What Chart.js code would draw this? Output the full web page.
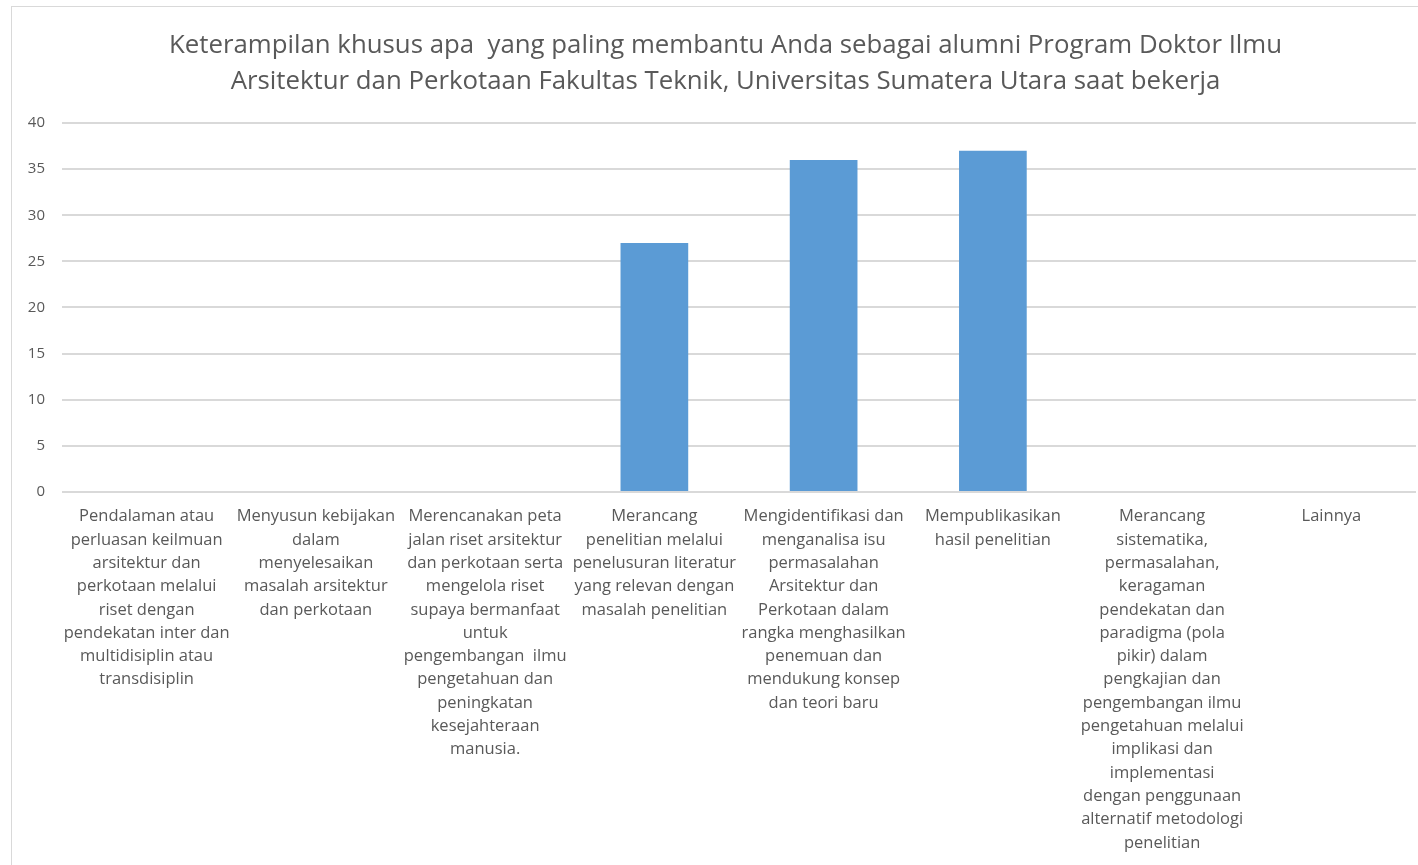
<!DOCTYPE html>
<html>
<head>
<meta charset="utf-8">
<script src="https://cdn.jsdelivr.net/npm/chart.js@4"></script>
<style>
  html, body { margin: 0; padding: 0; background: #fff; overflow: hidden; }
  #wrap { position: relative; width: 1418px; height: 865px; }
  #frame { position: absolute; left: 11px; top: 6px; width: 1420px; height: 880px; border: 1px solid #d9d9d9; box-sizing: border-box; }
  canvas { position: absolute; left: 0; top: 0; }
</style>
</head>
<body>
<div id="wrap">
  <div id="frame"></div>
  <canvas id="grafik" width="1418" height="865"></canvas>
</div>
<script>
// judul grafik (dua baris)
const judul = [
  'Keterampilan khusus apa  yang paling membantu Anda sebagai alumni Program Doktor Ilmu',
  'Arsitektur dan Perkotaan Fakultas Teknik, Universitas Sumatera Utara saat bekerja'
];

// kategori, sudah dipecah per baris seperti di gambar
const kategori = [
  ['Pendalaman atau', 'perluasan keilmuan', 'arsitektur dan', 'perkotaan melalui', 'riset dengan', 'pendekatan inter dan', 'multidisiplin atau', 'transdisiplin'],
  ['Menyusun kebijakan', 'dalam', 'menyelesaikan', 'masalah arsitektur', 'dan perkotaan'],
  ['Merencanakan peta', 'jalan riset arsitektur', 'dan perkotaan serta', 'mengelola riset', 'supaya bermanfaat', 'untuk', 'pengembangan  ilmu', 'pengetahuan dan', 'peningkatan', 'kesejahteraan', 'manusia.'],
  ['Merancang', 'penelitian melalui', 'penelusuran literatur', 'yang relevan dengan', 'masalah penelitian'],
  ['Mengidentifikasi dan', 'menganalisa isu', 'permasalahan', 'Arsitektur dan', 'Perkotaan dalam', 'rangka menghasilkan', 'penemuan dan', 'mendukung konsep', 'dan teori baru'],
  ['Mempublikasikan', 'hasil penelitian'],
  ['Merancang', 'sistematika,', 'permasalahan,', 'keragaman', 'pendekatan dan', 'paradigma (pola', 'pikir) dalam', 'pengkajian dan', 'pengembangan ilmu', 'pengetahuan melalui', 'implikasi dan', 'implementasi', 'dengan penggunaan', 'alternatif metodologi', 'penelitian'],
  ['Lainnya']
];

// jumlah responden
const jumlah = [0, 0, 0, 27, 36, 37, 0, 0];

// sumbu Y
const yMin = 0;
const yMax = 40;
const yStep = 5;

const warnaTeks = '#595959';
const warnaGaris = '#d9d9d9';
const huruf = '"Open Sans", Lato, sans-serif';

// geser judul sedikit ke kanan, di gambar asli tengahnya sekitar x=725
const geserJudul = {
  id: 'geserJudul',
  afterLayout(chart) {
    const t = chart.titleBlock;
    if (t) {
      t.left = 35;
      t.width = t.right - t.left;
    }
  }
};

const ctx = document.getElementById('grafik').getContext('2d');
new Chart(ctx, {
  type: 'bar',
  data: {
    labels: kategori,
    datasets: [{
      data: jumlah,
      backgroundColor: '#5b9bd5',
      borderWidth: 0,
      barPercentage: 0.4,
      categoryPercentage: 1
    }]
  },
  options: {
    responsive: false,
    animation: false,
    layout: { padding: { left: 0, right: 2, top: 0, bottom: 0 } },
    plugins: {
      legend: { display: false },
      tooltip: { enabled: false },
      title: {
        display: true,
        text: judul,
        color: warnaTeks,
        font: { family: huruf, size: 25.8, weight: 'normal', lineHeight: 1.395 },
        padding: { top: 28, bottom: 23 }
      }
    },
    scales: {
      x: {
        grid: { display: false, drawTicks: false },
        border: { display: false },
        ticks: {
          color: warnaTeks,
          font: { family: huruf, size: 16.5, lineHeight: 1.412 },
          padding: 13,
          maxRotation: 0,
          minRotation: 0,
          autoSkip: false
        },
        afterFit: function (scale) { scale.height = 865 - 492; }
      },
      y: {
        min: yMin,
        max: yMax,
        grid: { color: warnaGaris, lineWidth: 2, drawTicks: false },
        border: { display: false },
        ticks: {
          stepSize: yStep,
          color: warnaTeks,
          font: { family: huruf, size: 15 },
          padding: 17
        },
        afterFit: function (scale) { scale.width = 62; }
      }
    }
  },
  plugins: [geserJudul]
});
</script>
</body>
</html>
